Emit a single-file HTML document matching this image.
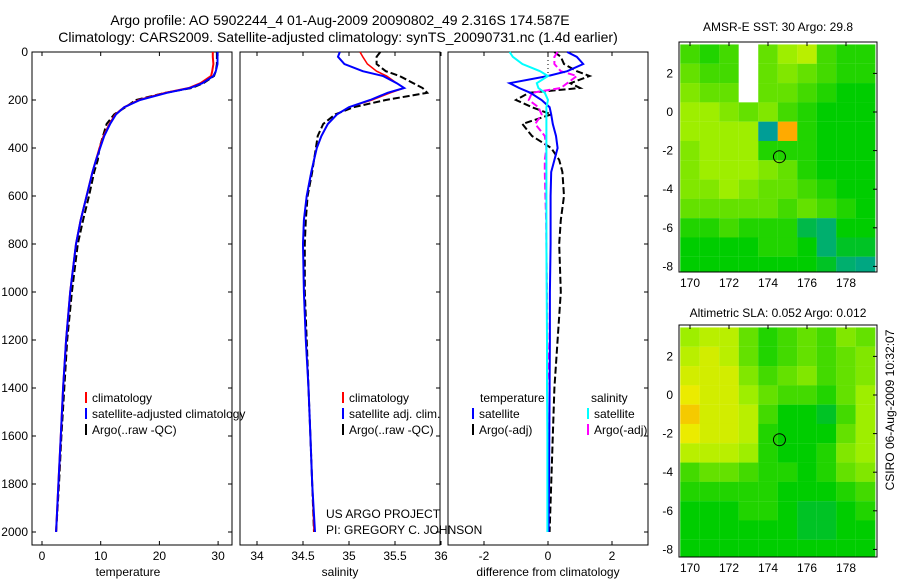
<!DOCTYPE html>
<html><head><meta charset="utf-8">
<style>
body{margin:0;background:#fff;}
svg{display:block;font-family:"Liberation Sans",sans-serif;}
text{fill:#000;}
</style></head>
<body>
<svg id="fig" width="900" height="580" viewBox="0 0 900 580">
<text x="340" y="25" font-size="14" text-anchor="middle">Argo profile: AO 5902244_4 01-Aug-2009 20090802_49 2.316S 174.587E</text>
<text x="338" y="42" font-size="14" text-anchor="middle">Climatology: CARS2009. Satellite-adjusted climatology: synTS_20090731.nc (1.4d earlier)</text>
<text x="778" y="31" font-size="12" text-anchor="middle">AMSR-E SST: 30 Argo: 29.8</text>
<text x="778" y="317" font-size="12" text-anchor="middle">Altimetric SLA: 0.052 Argo: 0.012</text>
<text transform="translate(894,410) rotate(-90)" font-size="12" text-anchor="middle">CSIRO 06-Aug-2009 10:32:07</text>
<text x="128" y="576" font-size="12" text-anchor="middle">temperature</text>
<text x="340" y="576" font-size="12" text-anchor="middle">salinity</text>
<text x="548" y="576" font-size="12" text-anchor="middle">difference from climatology</text>
<text id="proj1" x="326" y="518" font-size="12">US ARGO PROJECT</text>
<text id="proj2" x="326" y="534" font-size="12">PI: GREGORY C. JOHNSON</text>
</svg>
<script>
// ---- data ----
const depths=[0,20,50,80,100,130,150,170,200,230,260,300,350,400,450,500,600,700,800,1000,1200,1400,1600,1800,2000];
const tempClim=[29.1,29.1,29.2,29.0,28.8,27,25,21,16.5,14,12.5,11.5,10.5,9.8,9.2,8.6,7.6,6.6,5.8,4.8,4.1,3.6,3.2,2.8,2.4];
const tempSat=[29.9,29.9,29.9,29.6,29.2,27.3,25.2,21.3,16.7,14,12.6,11.6,10.6,9.9,9.2,8.6,7.6,6.6,5.8,4.8,4.1,3.6,3.2,2.8,2.4];
const tempArgo=[29.8,29.8,29.8,29.6,29.3,27.5,25.5,21,16,14.2,12.3,11,10.4,9.8,9.5,8.9,8,7,6.1,5.1,4.3,3.8,3.3,2.9,2.4];
const salClim=[35.12,35.15,35.2,35.3,35.41,35.52,35.6,35.45,35.25,35.0,34.87,34.77,34.7,34.65,34.62,34.59,34.54,34.51,34.5,34.51,34.53,34.56,34.58,34.6,34.62];
const salSat=[34.9,34.88,34.95,35.15,35.37,35.52,35.6,35.42,35.23,35.0,34.87,34.77,34.7,34.65,34.62,34.59,34.54,34.51,34.5,34.51,34.53,34.56,34.58,34.6,34.63];
const salArgo=[35.34,35.3,35.3,35.4,35.55,35.7,35.8,35.85,35.4,35.05,34.85,34.72,34.66,34.64,34.62,34.6,34.55,34.53,34.52,34.52,34.54,34.56,34.58,34.6,34.62];
const dTempSat=[0.6,0.9,1.1,0.6,0,-1.2,-0.9,-0.55,-0.2,0.05,0.1,0.15,0.25,0.3,0.2,0.1,0.08,0.08,0.08,0.06,0.06,0.05,0.04,0.03,0.02];
const dSalSat=[-1.2,-1.1,-0.8,-0.25,0,-0.35,-0.3,-0.1,0,-0.05,-0.05,-0.05,-0.05,-0.05,-0.05,-0.05,-0.05,-0.05,-0.05,-0.04,-0.03,-0.03,-0.02,-0.02,-0.02];
const dTempArgo=[0.2,0.4,0.5,0.9,1.3,0.7,1.0,-0.6,-1.0,-0.5,0.1,-0.8,-0.5,0.1,0.35,0.45,0.5,0.4,0.35,0.4,0.3,0.2,0.15,0.1,0.05];
const dSalArgo=[0.3,0.2,0.2,0.4,0.9,0.6,0.4,-0.5,-0.6,-0.3,-0.2,-0.4,-0.1,-0.05,-0.1,-0.1,-0.08,-0.06,-0.05,-0.03,-0.02,0.05,0.03,0.02,0.01];
const depthTicks=[0,200,400,600,800,1000,1200,1400,1600,1800,2000];
const tempTicks=[0,10,20,30];
const salTicks=[34,34.5,35,35.5,36];
const diffTicks=[-2,0,2];
const lonTicks=[170,172,174,176,178];
const latTicks=[2,0,-2,-4,-6,-8];
const mapLats=[3,2,1,0,-1,-2,-3,-4,-5,-6,-7,-8];
const mapLons=[170,171,172,173,174,175,176,177,178,179];
const sstGrid=[
[.55,.5,.55,-1,.6,.7,.75,.55,.5,.5],
[.6,.55,.55,-1,.6,.65,.6,.55,.5,.5],
[.65,.6,.6,-1,.6,.6,.55,.5,.45,.45],
[.7,.7,.65,.6,.65,.55,.5,.45,.45,.45],
[.7,.7,.7,.7,.1,.95,.5,.45,.45,.45],
[.65,.7,.7,.7,.5,.5,.5,.45,.45,.45],
[.65,.7,.7,.7,.65,.6,.5,.45,.45,.45],
[.65,.65,.7,.65,.6,.6,.55,.5,.45,.45],
[.6,.6,.6,.6,.6,.55,.6,.55,.5,.45],
[.5,.5,.55,.5,.5,.5,.35,.3,.45,.45],
[.45,.45,.45,.45,.5,.5,.45,.3,.4,.4],
[.45,.45,.45,.45,.45,.45,.45,.4,.3,.2]];
const slaGrid=[
[.7,.75,.75,.6,.5,.55,.6,.55,.65,.6],
[.75,.8,.75,.6,.5,.55,.6,.55,.6,.65],
[.8,.8,.8,.65,.55,.6,.65,.55,.6,.65],
[.85,.8,.8,.7,.6,.55,.55,.5,.6,.7],
[.9,.8,.8,.75,.55,.45,.45,.4,.55,.7],
[.85,.8,.8,.75,.5,.45,.45,.45,.6,.7],
[.75,.75,.75,.7,.5,.45,.45,.5,.65,.7],
[.55,.6,.6,.55,.5,.5,.45,.5,.6,.65],
[.5,.5,.5,.5,.5,.45,.45,.45,.5,.55],
[.45,.45,.45,.5,.5,.45,.4,.4,.45,.5],
[.45,.45,.45,.45,.45,.45,.4,.4,.45,.45],
[.45,.45,.45,.45,.45,.45,.45,.45,.45,.45]];
const argoLon=174.587, argoLat=-2.316;

// ---- helpers ----
const NS="http://www.w3.org/2000/svg";
const svg=document.getElementById('fig');
function mk(tag,attrs,parent){const e=document.createElementNS(NS,tag);for(const k in attrs)e.setAttribute(k,attrs[k]);(parent||svg).appendChild(e);return e;}
const Y=d=>52+d*0.24;
const panels=[
 {x0:32,x1:232,name:'temperature-panel',sx:v=>42+v*5.87,ticks:tempTicks,lbl:true},
 {x0:240,x1:440,name:'salinity-panel',sx:v=>257+(v-34)*92,ticks:salTicks,lbl:false},
 {x0:448,x1:648,name:'difference-panel',sx:v=>548+v*32,ticks:diffTicks,lbl:false}];
const TOP=52,BOT=545;
panels.forEach(p=>{
  const g=mk('g',{});
  
  
  mk('rect',{x:p.x0,y:TOP,width:p.x1-p.x0,height:BOT-TOP,fill:'#fff',stroke:'#000','stroke-width':1},g);
  p.ticks.forEach(t=>{const x=p.sx(t);
    mk('line',{x1:x,x2:x,y1:BOT,y2:BOT-4,stroke:'#000'},g);
    mk('line',{x1:x,x2:x,y1:TOP,y2:TOP+4,stroke:'#000'},g);
    const tx=mk('text',{x:x,y:BOT+15,'font-size':12,'text-anchor':'middle'},g);tx.textContent=String(t);
    
    
  });
  depthTicks.forEach(d=>{const y=Y(d);
    mk('line',{x1:p.x1,x2:p.x1-4,y1:y,y2:y,stroke:'#000'},g);
    if(p.lbl){mk('line',{x1:p.x0,x2:p.x0+4,y1:y,y2:y,stroke:'#000'},g);
      const tx=mk('text',{x:p.x0-4,y:y+4,'font-size':12,'text-anchor':'end'},g);tx.textContent=String(d);
      
      }
  });
  p.g=g;
});
function line(p,vals,color,dash,w,name){
  const pts=vals.map((v,i)=>p.sx(v).toFixed(1)+','+Y(depths[i]).toFixed(1)).join(' ');
  const e=mk('polyline',{points:pts,fill:'none',stroke:color,'stroke-width':w||2,'stroke-dasharray':dash||'none'},p.g);
  
  
}
const [P1,P2,P3]=panels;
line(P1,tempArgo,'#000','7,3',2,'temp-argo-line');
line(P1,tempClim,'#f00',null,2,'temp-climatology-line');
line(P1,tempSat,'#00f',null,2,'temp-satellite-line');
line(P2,salArgo,'#000','7,3',2,'sal-argo-line');
line(P2,salClim,'#f00',null,1.5,'sal-climatology-line');
line(P2,salSat,'#00f',null,2,'sal-satellite-line');
mk('line',{x1:P3.sx(0),x2:P3.sx(0),y1:TOP,y2:Y(100),stroke:'#000','stroke-dasharray':'1,3'},P3.g);
line(P3,dTempArgo,'#000','7,3',2,'diff-temp-argo-line');
line(P3,dSalArgo,'#f0f','7,3',2,'diff-sal-argo-line');
line(P3,dTempSat,'#00f',null,2,'diff-temp-satellite-line');
line(P3,dSalSat,'#0ff',null,2,'diff-sal-satellite-line');

function legend(x,y,color,label,name){
  const g=mk('g',{});
  
  
  mk('line',{x1:x,x2:x,y1:y-10,y2:y+1,stroke:color,'stroke-width':2},g);
  const t=mk('text',{x:x+6,y:y,'font-size':12},g);t.textContent=label;
}
legend(86,402,'#f00','climatology','legend-temp-climatology');
legend(86,418,'#00f','satellite-adjusted climatology','legend-temp-satellite');
legend(86,434,'#000','Argo(..raw -QC)','legend-temp-argo');
legend(343,402,'#f00','climatology','legend-sal-climatology');
legend(343,418,'#00f','satellite adj. clim.','legend-sal-satellite');
legend(343,434,'#000','Argo(..raw -QC)','legend-sal-argo');
let t1=mk('text',{x:480,y:402,'font-size':12});t1.textContent='temperature';


let t2=mk('text',{x:591,y:402,'font-size':12});t2.textContent='salinity';


legend(473,418,'#00f','satellite','legend-diff-temp-satellite');
legend(473,434,'#000','Argo(-adj)','legend-diff-temp-argo');
legend(588,418,'#0ff','satellite','legend-diff-sal-satellite');
legend(588,434,'#f0f','Argo(-adj)','legend-diff-sal-argo');
svg.appendChild(document.getElementById('proj1'));
svg.appendChild(document.getElementById('proj2'));

// ---- maps ----
const stops=[[0,[0,150,170]],[0.3,[0,175,110]],[0.45,[0,205,0]],[0.6,[100,225,0]],[0.72,[170,240,0]],[0.85,[235,235,0]],[0.95,[255,170,0]],[1,[255,140,0]]];
function cmap(v){if(v<0)return '#fff';
  for(let i=1;i<stops.length;i++){if(v<=stops[i][0]){const a=stops[i-1],b=stops[i],f=(v-a[0])/(b[0]-a[0]);
    return 'rgb('+a[1].map((c,j)=>Math.round(c+(b[1][j]-c)*f)).join(',')+')';}}
  return 'rgb(255,140,0)';}
function drawMap(x0,x1,y0,y1,lat0y,grid,name,cid){
  const lon=v=>690+(v-170)*19.5, lat=v=>lat0y-v*19.3;
  const g=mk('g',{});
  
  
  const cp=mk('clipPath',{id:cid},g);mk('rect',{x:x0,y:y0,width:x1-x0,height:y1-y0},cp);
  const cg=mk('g',{'clip-path':'url(#'+cid+')'},g);
  mapLats.forEach((la,r)=>mapLons.forEach((lo,c)=>{
    const cell=mk('rect',{x:lon(lo-0.5),y:lat(la+0.5),width:19.6,height:19.4,fill:cmap(grid[r][c])},cg);
    
    
  }));
  mk('rect',{x:x0,y:y0,width:x1-x0,height:y1-y0,fill:'none',stroke:'#000'},g);
  lonTicks.forEach(v=>{const x=lon(v);mk('line',{x1:x,x2:x,y1:y0,y2:y0+4,stroke:'#000'},g);
    const t=mk('text',{x:x,y:y1+15,'font-size':12,'text-anchor':'middle'},g);t.textContent=String(v);
    
    });
  latTicks.forEach(v=>{const y=lat(v);mk('line',{x1:x1,x2:x1-4,y1:y,y2:y,stroke:'#000'},g);
    const t=mk('text',{x:x0-6,y:y+4,'font-size':12,'text-anchor':'end'},g);t.textContent=String(v);
    
    });
  const c=mk('circle',{cx:lon(argoLon),cy:lat(argoLat),r:6,fill:'none',stroke:'#000'},g);
  
  
}
drawMap(679,877,42,272,112,sstGrid,'sst-map','clipA');
drawMap(679,877,325,557,395,slaGrid,'sla-map','clipB');
</script>
</body></html>
